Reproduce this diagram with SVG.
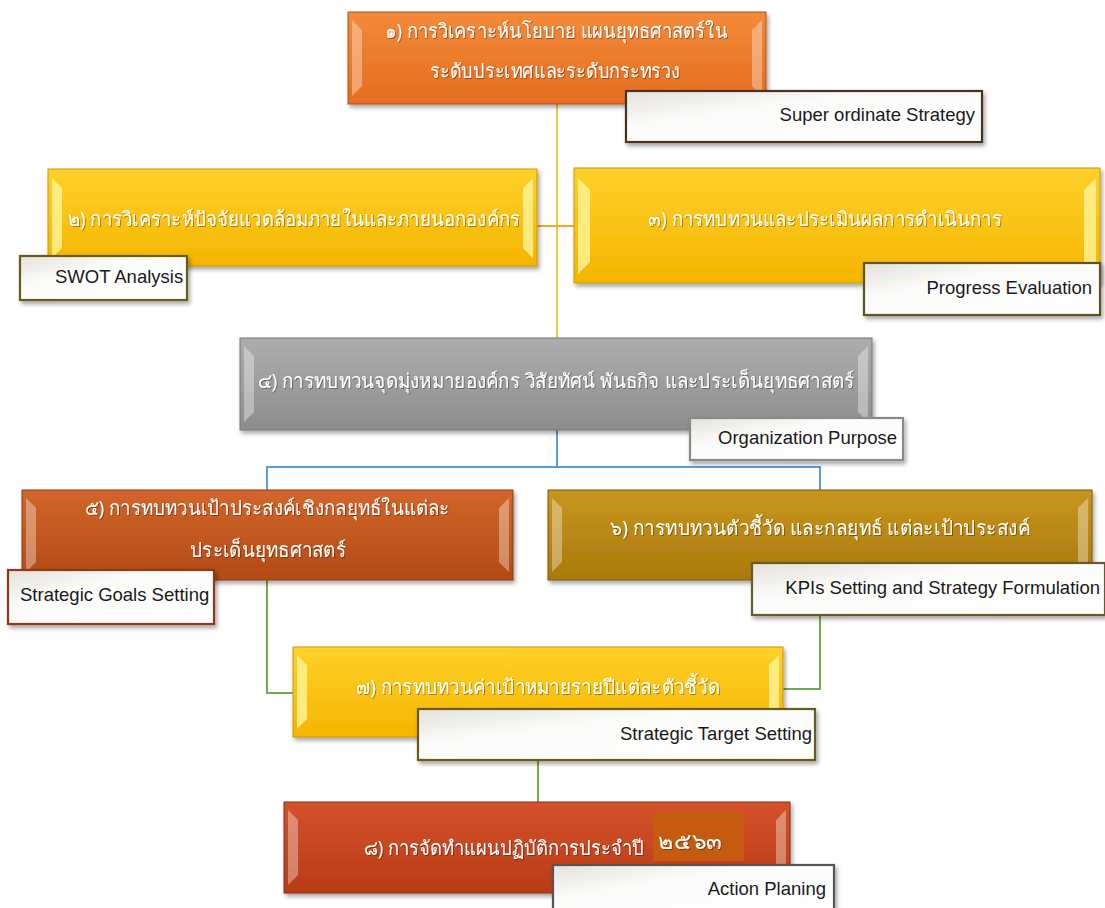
<svg xmlns="http://www.w3.org/2000/svg" width="1105" height="908" viewBox="0 0 1105 908">
<defs>
<style>
.th{font-family:"Noto Sans","DejaVu Sans",sans-serif;font-size:20px;fill:#ffffff;text-anchor:middle;filter:url(#ts)}
.yr{font-size:22px}
.lb{font-family:"Liberation Sans","DejaVu Sans",sans-serif;font-size:18.5px;fill:#1a1a1a}
.lbox{fill:url(#gLabel);stroke-width:2.2;filter:url(#sh)}
.bev{fill:#ffffff;opacity:0.35}
.con{fill:none;stroke-width:2}
</style>
<filter id="sh" x="-10%" y="-10%" width="125%" height="140%">
<feDropShadow dx="2" dy="3" stdDeviation="2" flood-color="#000" flood-opacity="0.35"/>
</filter>
<filter id="ts" x="-5%" y="-20%" width="110%" height="150%">
<feDropShadow dx="1" dy="1" stdDeviation="0.6" flood-color="#000" flood-opacity="0.35"/>
</filter>
<linearGradient id="gLabel" x1="0" y1="0" x2="1" y2="1">
<stop offset="0" stop-color="#e4e1da"/><stop offset="0.35" stop-color="#fbfbfa"/><stop offset="1" stop-color="#ffffff"/>
</linearGradient>
<linearGradient id="gOr" x1="0" y1="0" x2="0" y2="1">
<stop offset="0" stop-color="#f38a3a"/><stop offset="1" stop-color="#e56d1f"/>
</linearGradient>
<linearGradient id="gYe" x1="0" y1="0" x2="0" y2="1">
<stop offset="0" stop-color="#ffd12a"/><stop offset="1" stop-color="#f4b500"/>
</linearGradient>
<linearGradient id="gGr" x1="0" y1="0" x2="0" y2="1">
<stop offset="0" stop-color="#adadad"/><stop offset="1" stop-color="#8d8d8d"/>
</linearGradient>
<linearGradient id="gBr" x1="0" y1="0" x2="0" y2="1">
<stop offset="0" stop-color="#d2662b"/><stop offset="1" stop-color="#b24a15"/>
</linearGradient>
<linearGradient id="gGo" x1="0" y1="0" x2="0" y2="1">
<stop offset="0" stop-color="#c8961f"/><stop offset="1" stop-color="#a9790b"/>
</linearGradient>
<linearGradient id="gRd" x1="0" y1="0" x2="0" y2="1">
<stop offset="0" stop-color="#d4522b"/><stop offset="1" stop-color="#b83b17"/>
</linearGradient>
</defs>
<rect width="1105" height="908" fill="#ffffff"/>

<g id="connectors">
<line class="con" x1="557" y1="104" x2="557" y2="338" stroke="#f2c744"/>
<line class="con" x1="537" y1="226" x2="574" y2="226" stroke="#f0a830"/>
<polyline class="con" points="557,430 557,467" stroke="#5b9bd5"/>
<polyline class="con" points="267,490 267,467 820,467 820,490" stroke="#5b9bd5"/>
<polyline class="con" points="267,580 267,693 293,693" stroke="#70ad47"/>
<polyline class="con" points="820,615 820,689 783,689" stroke="#70ad47"/>
<line class="con" x1="538" y1="737" x2="538" y2="802" stroke="#70ad47"/>
</g>

<g id="node1">
<rect x="348" y="12" width="418" height="92" fill="url(#gOr)" stroke="#b0561a" stroke-width="1" filter="url(#sh)"/>
<polygon class="bev" points="352,20 362,30 362,86 352,96"/>
<polygon class="bev" points="762,20 752,30 752,86 762,96"/>
<text class="th" x="556" y="38" textLength="343" lengthAdjust="spacingAndGlyphs">๑) การวิเคราะห์นโยบาย แผนยุทธศาสตร์ใน</text>
<text class="th" x="555" y="78" textLength="250" lengthAdjust="spacingAndGlyphs">ระดับประเทศและระดับกระทรวง</text>
</g>
<g id="label1">
<rect class="lbox" x="626" y="91" width="356" height="51" stroke="#4a3322"/>
<text class="lb" x="975" y="121" text-anchor="end">Super ordinate Strategy</text>
</g>

<g id="node2">
<rect x="48" y="169" width="489" height="97" fill="url(#gYe)" stroke="#c99a00" stroke-width="1" filter="url(#sh)"/>
<polygon class="bev" points="52,178 62,188 62,248 52,258" style="fill:#fff59a;opacity:0.8"/>
<polygon class="bev" points="533,178 523,188 523,248 533,258" style="fill:#fff59a;opacity:0.8"/>
<text class="th" x="294" y="226" textLength="452" lengthAdjust="spacingAndGlyphs">๒) การวิเคราะห์ปัจจัยแวดล้อมภายในและภายนอกองค์กร</text>
</g>
<g id="label2">
<rect class="lbox" x="20" y="256" width="167" height="44" stroke="#6b5a1e"/>
<text class="lb" x="55" y="283">SWOT Analysis</text>
</g>

<g id="node3">
<rect x="574" y="168" width="526" height="115" fill="url(#gYe)" stroke="#c99a00" stroke-width="1" filter="url(#sh)"/>
<polygon class="bev" points="578,178 590,190 590,262 578,274" style="fill:#fff59a;opacity:0.8"/>
<polygon class="bev" points="1096,178 1084,190 1084,262 1096,274" style="fill:#fff59a;opacity:0.8"/>
<text class="th" x="825" y="226" textLength="354" lengthAdjust="spacingAndGlyphs">๓) การทบทวนและประเมินผลการดำเนินการ</text>
</g>
<g id="label3">
<rect class="lbox" x="864" y="263" width="236" height="52" stroke="#5e5224"/>
<text class="lb" x="1092" y="294" text-anchor="end">Progress Evaluation</text>
</g>

<g id="node4">
<rect x="240" y="338" width="632" height="92" fill="url(#gGr)" stroke="#777" stroke-width="1" filter="url(#sh)"/>
<polygon class="bev" points="244,346 254,356 254,412 244,422"/>
<polygon class="bev" points="868,346 858,356 858,412 868,422"/>
<text class="th" x="556" y="388" textLength="597" lengthAdjust="spacingAndGlyphs">๔) การทบทวนจุดมุ่งหมายองค์กร วิสัยทัศน์ พันธกิจ และประเด็นยุทธศาสตร์</text>
</g>
<g id="label4">
<rect class="lbox" x="690" y="418" width="213" height="42" stroke="#8a8a8a"/>
<text class="lb" x="897" y="444" text-anchor="end">Organization Purpose</text>
</g>

<g id="node5">
<rect x="22" y="490" width="491" height="90" fill="url(#gBr)" stroke="#8e3a10" stroke-width="1" filter="url(#sh)"/>
<polygon class="bev" points="26,498 36,508 36,562 26,572"/>
<polygon class="bev" points="509,498 499,508 499,562 509,572"/>
<text class="th" x="267" y="515" textLength="365" lengthAdjust="spacingAndGlyphs">๕) การทบทวนเป้าประสงค์เชิงกลยุทธ์ในแต่ละ</text>
<text class="th" x="268" y="557" textLength="156" lengthAdjust="spacingAndGlyphs">ประเด็นยุทธศาสตร์</text>
</g>
<g id="label5">
<rect class="lbox" x="8" y="570" width="206" height="54" stroke="#8b3a1a"/>
<text class="lb" x="20" y="601">Strategic Goals Setting</text>
</g>

<g id="node6">
<rect x="548" y="490" width="544" height="90" fill="url(#gGo)" stroke="#7d5a08" stroke-width="1" filter="url(#sh)"/>
<polygon class="bev" points="552,498 562,508 562,562 552,572"/>
<polygon class="bev" points="1088,498 1078,508 1078,562 1088,572"/>
<text class="th" x="820" y="535" textLength="420" lengthAdjust="spacingAndGlyphs">๖) การทบทวนตัวชี้วัด และกลยุทธ์ แต่ละเป้าประสงค์</text>
</g>
<g id="label6">
<rect class="lbox" x="752" y="563" width="353" height="52" stroke="#6b5a2a"/>
<text class="lb" x="1100" y="594" text-anchor="end">KPIs Setting and Strategy Formulation</text>
</g>

<g id="node7">
<rect x="293" y="647" width="490" height="90" fill="url(#gYe)" stroke="#c99a00" stroke-width="1" filter="url(#sh)"/>
<polygon class="bev" points="297,655 307,665 307,719 297,729" style="fill:#fff59a;opacity:0.8"/>
<polygon class="bev" points="779,655 769,665 769,719 779,729" style="fill:#fff59a;opacity:0.8"/>
<text class="th" x="538" y="694" textLength="364" lengthAdjust="spacingAndGlyphs">๗) การทบทวนค่าเป้าหมายรายปีแต่ละตัวชี้วัด</text>
</g>
<g id="label7">
<rect class="lbox" x="418" y="709" width="397" height="51" stroke="#6b5a1e"/>
<text class="lb" x="812" y="740" text-anchor="end">Strategic Target Setting</text>
</g>

<g id="node8">
<rect x="284" y="802" width="506" height="91" fill="url(#gRd)" stroke="#8e2e10" stroke-width="1" filter="url(#sh)"/>
<polygon class="bev" points="288,810 298,820 298,875 288,885"/>
<polygon class="bev" points="786,810 776,820 776,875 786,885"/>
<rect x="653" y="812" width="91" height="49" fill="#c55a11"/>
<text class="th" x="364" y="855" style="text-anchor:start"><tspan textLength="280" lengthAdjust="spacingAndGlyphs">๘) การจัดทำแผนปฏิบัติการประจำปี</tspan><tspan class="yr" x="658" y="849" textLength="64" lengthAdjust="spacingAndGlyphs">๒๕๖๓</tspan></text>
</g>
<g id="label8">
<rect class="lbox" x="553" y="865" width="281" height="50" stroke="#555555"/>
<text class="lb" x="826" y="895" text-anchor="end">Action Planing</text>
</g>
</svg>
